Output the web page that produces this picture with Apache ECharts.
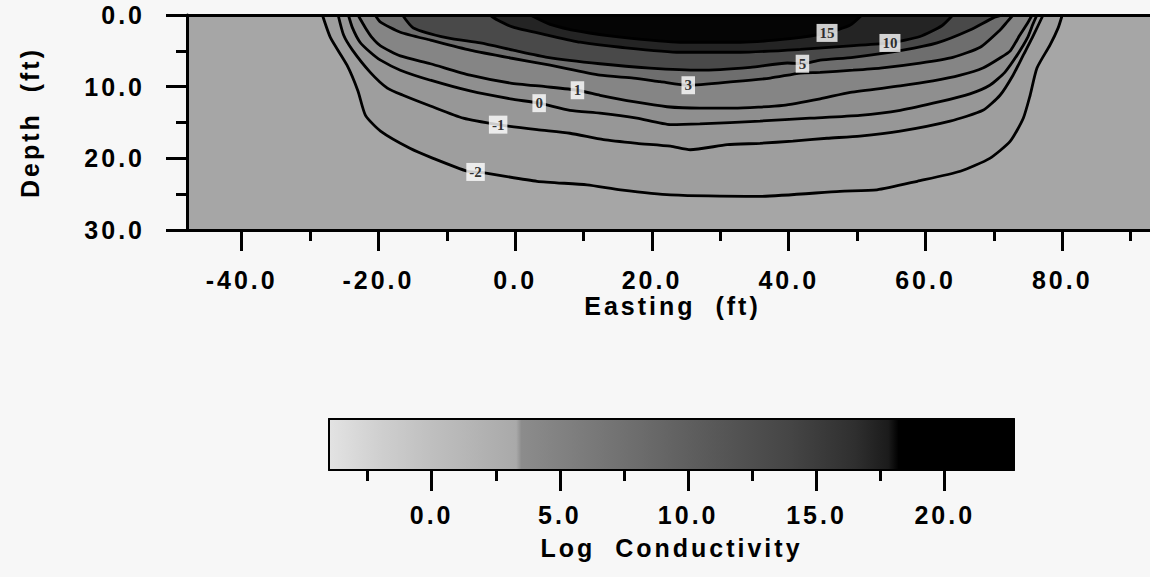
<!DOCTYPE html>
<html><head><meta charset="utf-8">
<script src="https://cdn.jsdelivr.net/npm/echarts@6/dist/echarts.min.js"></script>
<style>
html,body{margin:0;padding:0;background:#f7f7f7;}
#chart{width:1150px;height:577px;}
#chart text{letter-spacing:3px;white-space:pre;}
#chart text[style*="Serif"]{letter-spacing:0;}
</style></head><body><div id="chart"></div>
<script>
// ---- axes / ticks ----
const X_MIN = -48, X_MAX = 94;
const Y_MIN = 0, Y_MAX = 30;
const X_MAJOR = [-40, -20, 0, 20, 40, 60, 80];
const X_MINOR = [-30, -10, 10, 30, 50, 70, 90];
const Y_MAJOR = [0, 10, 20, 30];
const Y_MINOR = [5, 15, 25];
const CB_MIN = -4, CB_MAX = 22.7;
const CB_MAJOR = [0, 5, 10, 15, 20];
const CB_MINOR = [-2.5, 2.5, 7.5, 12.5, 17.5];

// ---- contour levels and traced lines [easting, depth] ----
const LEVELS = [-2, -1, 0, 1, 3, 5, 10, 15];
const C_M2 = [[-28.2,0],[-27.0,3.2],[-24.6,7.0],[-23.0,10.6],[-21.9,14.0],[-19.7,16.2],[-15.4,18.6],[-12.0,20.0],[-7.0,21.8],[-4.7,22.0],[3.2,23.2],[10.5,23.7],[15.4,24.4],[22.7,25.1],[35.8,25.3],[47.5,24.6],[52.9,24.4],[58.8,23.2],[65.1,21.8],[69.4,20.0],[72.4,17.6],[74.3,14.4],[75.3,11.2],[76.3,7.4],[78.2,4.2],[79.4,1.8],[80.0,0]];
const C_M1 = [[-25.9,0],[-25.1,2.8],[-23.8,4.9],[-21.2,8.0],[-18.7,10.2],[-16.4,11.2],[-12.4,12.7],[-7.6,14.4],[-2.5,15.3],[3.2,16.0],[8.0,16.5],[12.9,17.4],[17.8,17.9],[22.7,18.3],[25.6,18.8],[31.0,18.1],[35.8,17.9],[40.6,17.6],[45.6,17.2],[50.4,16.9],[56.3,16.2],[63.6,14.8],[68.4,13.3],[70.9,11.2],[72.8,8.4],[74.3,5.6],[75.6,3.2],[77.2,0]];
const C_0 = [[-24.4,0],[-23.8,1.8],[-22.7,3.8],[-21.2,5.2],[-19.7,6.3],[-16.8,7.7],[-12.4,9.1],[-6.6,10.6],[-0.7,11.7],[3.5,12.3],[8.0,13.3],[12.4,13.7],[17.8,14.4],[22.7,15.3],[27.0,15.2],[35.8,14.8],[43.1,14.4],[50.4,14.0],[56.3,13.3],[62.1,12.1],[66.5,11.0],[69.4,9.8],[71.6,8.0],[73.4,5.6],[74.9,3.2],[75.7,1.3],[76.3,0]];
const C_1 = [[-23.0,0],[-21.9,1.8],[-20.9,3.2],[-19.7,4.3],[-16.8,5.7],[-12.4,6.8],[-6.6,8.4],[-0.7,9.5],[4.4,10.0],[9.1,10.5],[12.4,11.2],[17.3,12.1],[22.2,12.8],[27.0,13.0],[31.9,13.0],[39.2,12.6],[44.6,11.7],[49.0,10.8],[56.3,9.9],[61.1,9.2],[65.1,8.4],[68.4,7.4],[70.9,6.0],[72.4,5.0],[73.8,2.8],[75.0,1.0],[75.6,0]];
const C_3 = [[-20.5,0],[-19.7,1.0],[-16.8,2.4],[-12.4,3.5],[-6.6,4.9],[-0.7,6.0],[5.1,7.0],[12.4,8.4],[17.3,8.8],[21.2,9.3],[25.3,9.8],[31.9,9.3],[37.3,8.8],[41.7,8.1],[44.6,8.0],[49.4,7.7],[53.4,7.4],[59.2,6.7],[64.0,5.9],[68.0,4.5],[70.9,2.1],[71.9,1.0],[72.8,0]];
const C_5 = [[-16.5,0],[-14.9,1.8],[-9.9,3.2],[-5.1,3.9],[-0.3,4.9],[4.7,5.9],[12.4,6.8],[19.7,7.4],[27.0,7.7],[34.4,7.3],[39.8,6.7],[42.0,6.8],[44.6,6.3],[49.4,5.9],[56.7,4.9],[61.7,3.9],[66.5,2.1],[69.9,0.4],[71.3,0]];
const C_10 = [[-3.7,0],[-2.6,0.7],[-0.3,1.7],[4.7,2.8],[9.5,3.8],[15.4,4.5],[24.1,5.2],[32.9,5.2],[41.7,4.8],[49.0,4.3],[54.8,3.9],[59.2,3.0],[62.4,1.5],[64.0,0]];
const C_15 = [[2.2,0],[5.1,1.3],[9.5,2.3],[15.4,3.1],[24.1,3.8],[32.9,3.8],[40.2,3.3],[45.6,2.5],[49.0,1.4],[50.7,0]];
const CONTOURS = [C_M2, C_M1, C_0, C_1, C_3, C_5, C_10, C_15];

// ---- contour labels ----
const LABEL_TEXT = ['-2', '-1', '0', '1', '3', '5', '10', '15'];
const LABEL_E = [-5.8, -2.5, 3.5, 9.1, 25.3, 42.0, 54.8, 45.6];
const LABEL_D = [21.9, 15.3, 12.3, 10.5, 9.8, 6.8, 3.9, 2.5];

// ---- colour bar shading stops (values) ----
const CB_STOP_VALUES = [-4, -2, 0, 3.3, 3.5, 6, 10, 14, 16.5, 17.8, 18.2, 22.7];

// ---- styles ----
const CB_STOP_COLORS = ['#e3e3e3','#cfcfcf','#bfbfbf','#a9a9a9','#8c8c8c','#7b7b7b','#5f5f5f','#454545','#2f2f2f','#1b1b1b','#000000','#000000'];
const BG_COLOR = '#a6a6a6';
const BAND_COLORS = ['#9e9e9e','#979797','#8f8f8f','#858585','#6e6e6e','#494949','#242424','#050505'];
const FONT = 'Liberation Sans';
const TXT = {fontFamily: FONT, fontSize: 25, fontWeight: 'bold', color: '#000'};

const chart = echarts.init(document.getElementById('chart'), null, {renderer: 'svg'});

const blackLine = (w) => ({show: true, onZero: false, lineStyle: {color: '#000', width: w}});
const noLine = {show: false, onZero: false};

const series = [];
CONTOURS.forEach((pts, i) => {
  series.push({
    type: 'line', xAxisIndex: 0, yAxisIndex: 0,
    name: 'level ' + LEVELS[i],
    data: pts, symbol: 'none', smooth: 0.2, z: 2 + i * 0.01,
    lineStyle: {color: '#000', width: 2.8},
    areaStyle: {origin: 'start', color: BAND_COLORS[i], opacity: 1},
    silent: true, animation: false
  });
});
series.push({
  type: 'scatter', xAxisIndex: 0, yAxisIndex: 0, z: 5,
  symbolSize: 0, animation: false, silent: true,
  data: LABEL_TEXT.map((t, i) => ({value: [LABEL_E[i], LABEL_D[i]], name: t})),
  label: {show: true, position: 'inside', formatter: p => p.name,
    fontFamily: 'Liberation Serif', fontWeight: 'bold', fontSize: 15, color: '#000',
    backgroundColor: '#ffffff', padding: [2, 3, 1, 3]}
});
const span = CB_MAX - CB_MIN;
series.push({
  type: 'scatter', xAxisIndex: 3, yAxisIndex: 2, data: [], animation: false, silent: true,
  markArea: {silent: true, animation: false,
    itemStyle: {color: {type: 'linear', x: 0, y: 0, x2: 1, y2: 0,
      colorStops: CB_STOP_VALUES.map((v, i) => ({offset: (v - CB_MIN) / span, color: CB_STOP_COLORS[i]}))}},
    data: [[{xAxis: CB_MIN}, {xAxis: CB_MAX}]]}
});

const option = {
  backgroundColor: '#f7f7f7',
  animation: false,
  grid: [
    {left: 187, top: 15, width: 971, height: 215, show: true, backgroundColor: BG_COLOR, borderWidth: 0, outerBoundsMode: 'none', containLabel: false},
    {left: 329, top: 419, width: 685, height: 51, outerBoundsMode: 'none', containLabel: false}
  ],
  xAxis: [
    {gridIndex: 0, type: 'value', position: 'bottom', min: X_MIN, max: X_MAX, z: 10,
     axisLine: blackLine(3),
     axisTick: {show: true, length: 21, customValues: X_MAJOR, lineStyle: {color: '#000', width: 3}},
     axisLabel: Object.assign({customValues: X_MAJOR, margin: 37, formatter: v => v.toFixed(1)}, TXT),
     splitLine: {show: false},
     name: 'Easting  (ft)', nameLocation: 'middle', nameGap: 63, nameTextStyle: TXT},
    {gridIndex: 0, type: 'value', position: 'bottom', min: X_MIN, max: X_MAX, z: 10,
     axisLine: noLine, axisLabel: {show: false}, splitLine: {show: false},
     axisTick: {show: true, length: 11, customValues: X_MINOR, lineStyle: {color: '#000', width: 3}}},
    {gridIndex: 0, type: 'value', position: 'top', min: X_MIN, max: X_MAX, z: 10,
     axisLine: blackLine(3), axisTick: {show: false}, axisLabel: {show: false}, splitLine: {show: false}},
    {gridIndex: 1, type: 'value', position: 'bottom', min: CB_MIN, max: CB_MAX, z: 10,
     axisLine: blackLine(2),
     axisTick: {show: true, length: 21, customValues: CB_MAJOR, lineStyle: {color: '#000', width: 3}},
     axisLabel: Object.assign({customValues: CB_MAJOR, margin: 32, formatter: v => v.toFixed(1)}, TXT),
     splitLine: {show: false},
     name: 'Log  Conductivity', nameLocation: 'middle', nameGap: 65, nameTextStyle: TXT},
    {gridIndex: 1, type: 'value', position: 'bottom', min: CB_MIN, max: CB_MAX, z: 10,
     axisLine: noLine, axisLabel: {show: false}, splitLine: {show: false},
     axisTick: {show: true, length: 11, customValues: CB_MINOR, lineStyle: {color: '#000', width: 3}}},
    {gridIndex: 1, type: 'value', position: 'top', min: CB_MIN, max: CB_MAX, z: 10,
     axisLine: blackLine(2), axisTick: {show: false}, axisLabel: {show: false}, splitLine: {show: false}}
  ],
  yAxis: [
    {gridIndex: 0, type: 'value', position: 'left', inverse: true, min: Y_MIN, max: Y_MAX, z: 10,
     axisLine: blackLine(3),
     axisTick: {show: true, length: 21, customValues: Y_MAJOR, lineStyle: {color: '#000', width: 3}},
     axisLabel: Object.assign({customValues: Y_MAJOR, margin: 42, padding: [8, 0, 0, 0], formatter: v => v.toFixed(1)}, TXT),
     splitLine: {show: false},
     name: 'Depth  (ft)', nameLocation: 'middle', nameGap: 145, nameRotate: 90, nameTextStyle: TXT},
    {gridIndex: 0, type: 'value', position: 'left', inverse: true, min: Y_MIN, max: Y_MAX, z: 10,
     axisLine: noLine, axisLabel: {show: false}, splitLine: {show: false},
     axisTick: {show: true, length: 11, customValues: Y_MINOR, lineStyle: {color: '#000', width: 3}}},
    {gridIndex: 1, type: 'value', position: 'left', min: 0, max: 1, z: 10,
     axisLine: blackLine(2), axisTick: {show: false}, axisLabel: {show: false}, splitLine: {show: false}},
    {gridIndex: 1, type: 'value', position: 'right', min: 0, max: 1, z: 10,
     axisLine: blackLine(2), axisTick: {show: false}, axisLabel: {show: false}, splitLine: {show: false}}
  ],
  series: series
};
chart.setOption(option);
</script></body></html>
